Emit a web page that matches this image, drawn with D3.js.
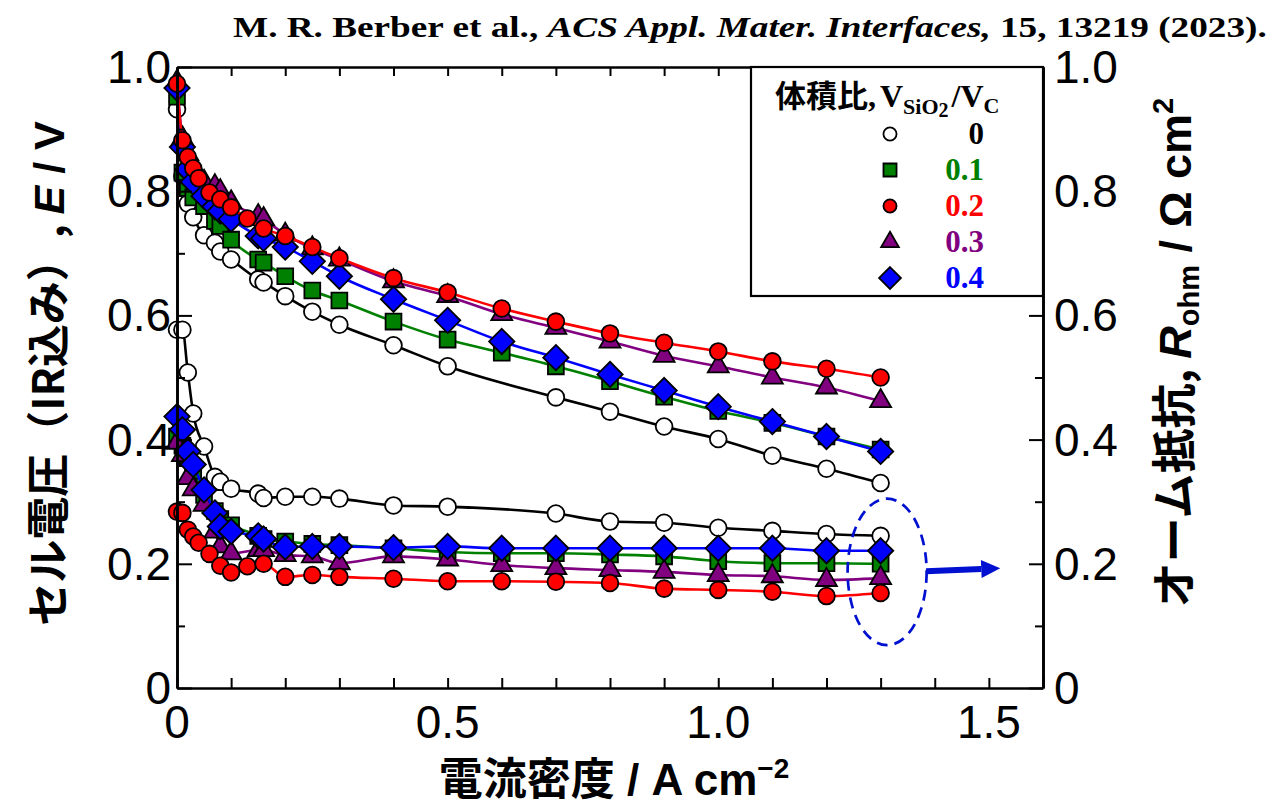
<!DOCTYPE html>
<html>
<head>
<meta charset="utf-8">
<script src="https://cdn.jsdelivr.net/npm/d3@7"></script>
<style>
  body { margin: 0; background: #fff; }
  svg { display: block; }
</style>
</head>
<body>
<svg id="chart" width="1275" height="807"></svg>
<script>
// ---- Data: cell voltage (IR-included) and ohmic resistance vs current density ----
const ratioLabels = ["0", "0.1", "0.2", "0.3", "0.4"];
const ratioColors = ["#000000", "#008000", "#ff0000", "#800080", "#0000ff"];
const markerFills = ["#ffffff", "#008000", "#ff0000", "#800080", "#0000ff"];
const markerShapes = ["circle", "square", "circle", "triangle", "diamond"];

// V_SiO2/V_C = 0
const current_0 = [0, 0.01, 0.02, 0.03, 0.05, 0.07, 0.08, 0.1, 0.15, 0.16, 0.2, 0.25, 0.3, 0.4, 0.5, 0.7, 0.8, 0.9, 1.0, 1.1, 1.2, 1.3];
const voltage_0 = [0.932, 0.824, 0.780, 0.758, 0.729, 0.717, 0.703, 0.690, 0.658, 0.653, 0.631, 0.606, 0.585, 0.552, 0.518, 0.468, 0.445, 0.421, 0.401, 0.374, 0.353, 0.330];
const resistance_0 = [0.577, 0.577, 0.508, 0.442, 0.389, 0.340, 0.332, 0.321, 0.313, 0.306, 0.308, 0.308, 0.305, 0.294, 0.292, 0.281, 0.268, 0.266, 0.258, 0.253, 0.248, 0.245];

// V_SiO2/V_C = 0.1
const current_1 = [0, 0.01, 0.02, 0.03, 0.05, 0.07, 0.08, 0.1, 0.15, 0.16, 0.2, 0.25, 0.3, 0.4, 0.5, 0.6, 0.7, 0.8, 0.9, 1.0, 1.1, 1.2, 1.3];
const voltage_1 = [0.952, 0.830, 0.805, 0.790, 0.776, 0.752, 0.744, 0.722, 0.690, 0.685, 0.663, 0.640, 0.624, 0.590, 0.561, 0.540, 0.518, 0.494, 0.469, 0.446, 0.427, 0.405, 0.384];
const resistance_1 = [0.405, 0.390, 0.370, 0.350, 0.311, 0.285, 0.272, 0.262, 0.245, 0.240, 0.236, 0.232, 0.230, 0.225, 0.219, 0.217, 0.217, 0.215, 0.212, 0.204, 0.201, 0.201, 0.200];

// V_SiO2/V_C = 0.2
const current_2 = [0, 0.01, 0.02, 0.03, 0.04, 0.06, 0.08, 0.1, 0.13, 0.16, 0.2, 0.25, 0.3, 0.4, 0.5, 0.6, 0.7, 0.8, 0.9, 1.0, 1.1, 1.2, 1.3];
const voltage_2 = [0.973, 0.882, 0.855, 0.837, 0.821, 0.798, 0.787, 0.774, 0.756, 0.740, 0.728, 0.710, 0.692, 0.660, 0.637, 0.611, 0.590, 0.571, 0.556, 0.542, 0.526, 0.514, 0.500];
const resistance_2 = [0.284, 0.282, 0.255, 0.244, 0.234, 0.216, 0.197, 0.186, 0.196, 0.200, 0.179, 0.182, 0.179, 0.176, 0.172, 0.172, 0.171, 0.169, 0.160, 0.158, 0.155, 0.148, 0.153];

// V_SiO2/V_C = 0.3
const current_3 = [0, 0.01, 0.02, 0.03, 0.05, 0.07, 0.08, 0.1, 0.15, 0.16, 0.2, 0.25, 0.3, 0.4, 0.5, 0.6, 0.7, 0.8, 0.9, 1.0, 1.1, 1.2, 1.3];
const voltage_3 = [0.976, 0.885, 0.860, 0.840, 0.815, 0.808, 0.800, 0.782, 0.760, 0.755, 0.730, 0.708, 0.690, 0.655, 0.631, 0.602, 0.580, 0.558, 0.535, 0.518, 0.500, 0.484, 0.462];
const resistance_3 = [0.395, 0.375, 0.338, 0.320, 0.295, 0.252, 0.228, 0.217, 0.222, 0.222, 0.214, 0.212, 0.201, 0.212, 0.207, 0.198, 0.193, 0.190, 0.187, 0.182, 0.180, 0.174, 0.177];

// V_SiO2/V_C = 0.4
const current_4 = [0, 0.01, 0.02, 0.03, 0.05, 0.07, 0.08, 0.1, 0.15, 0.16, 0.2, 0.25, 0.3, 0.4, 0.5, 0.6, 0.7, 0.8, 0.9, 1.0, 1.1, 1.2, 1.3];
const voltage_4 = [0.966, 0.871, 0.835, 0.815, 0.792, 0.775, 0.768, 0.755, 0.728, 0.724, 0.710, 0.687, 0.663, 0.626, 0.592, 0.558, 0.532, 0.505, 0.479, 0.453, 0.429, 0.405, 0.381];
const resistance_4 = [0.437, 0.416, 0.381, 0.360, 0.319, 0.282, 0.260, 0.252, 0.245, 0.240, 0.227, 0.228, 0.228, 0.226, 0.228, 0.225, 0.225, 0.225, 0.225, 0.225, 0.225, 0.221, 0.221];

const currents = [current_0, current_1, current_2, current_3, current_4];
const voltages = [voltage_0, voltage_1, voltage_2, voltage_3, voltage_4];
const resistances = [resistance_0, resistance_1, resistance_2, resistance_3, resistance_4];

// Axis ticks
const xMinorTicks = d3.range(0, 17).map(i => i / 10);
const xLabelValues = [0, 0.5, 1.0, 1.5];
const xLabelTexts = ["0", "0.5", "1.0", "1.5"];
const yMajorTicks = [0, 0.2, 0.4, 0.6, 0.8, 1.0];
const yMinorTicks = [0.1, 0.3, 0.5, 0.7, 0.9];
const yLabelTexts = ["0", "0.2", "0.4", "0.6", "0.8", "1.0"];

// ---- Layout ----
const svg = d3.select("#chart");
const x = d3.scaleLinear().domain([0, 1.6]).range([177, 1043]);
const y = d3.scaleLinear().domain([0, 1]).range([688, 67]);
const [xL, xR] = x.range();
const [yB, yT] = y.range();

// Citation line, set in a bold serif and fitted to its slot
const citeRight = 1267, citeWidth = 1034;
const cite = svg.append("text")
  .attr("text-anchor", "start")
  .style("font-family", "'Liberation Serif', 'Times New Roman', serif")
  .style("font-weight", "bold").style("font-size", "30px");
cite.append("tspan").text("M. R. Berber et al., ");
cite.append("tspan").style("font-style", "italic").text("ACS Appl. Mater. Interfaces,");
cite.append("tspan").text(" 15, 13219 (2023).");
const citeNatural = cite.node().getComputedTextLength();
cite.attr("transform", `translate(${citeRight - citeWidth},37) scale(${citeWidth / citeNatural},1)`);

// ---- Data layers ----
const plot = svg.append("g");
const line = d3.line().x(d => x(d[0])).y(d => y(d[1])).curve(d3.curveMonotoneX);

function markerPath(shape, size) {
  if (shape === "circle") return d3.symbol(d3.symbolCircle, size)();
  if (shape === "square") return d3.symbol(d3.symbolSquare, size)();
  if (shape === "triangle") return d3.symbol(d3.symbolTriangle, size)();
  // square rotated 45 degrees
  const h = Math.sqrt(size) / Math.SQRT2;
  return `M0,${-h}L${h},0L0,${h}L${-h},0Z`;
}
const markerSizes = { circle: 220, square: 250, triangle: 190, diamond: 320 };

const drawOrder = [0, 1, 3, 4, 2];
drawOrder.forEach(i => {
  const eData = currents[i].map((c, k) => [c, voltages[i][k]]);
  const rData = currents[i].map((c, k) => [c, resistances[i][k]]);
  [eData, rData].forEach(data => {
    plot.append("path")
      .datum(data)
      .attr("d", line)
      .attr("fill", "none")
      .attr("stroke", ratioColors[i])
      .attr("stroke-width", 2.6);
  });
  const shape = markerShapes[i];
  const d = markerPath(shape, markerSizes[shape]);
  [eData, rData].forEach(data => {
    plot.append("g").selectAll("path")
      .data(data)
      .join("path")
      .attr("d", d)
      .attr("transform", p => `translate(${x(p[0])},${y(p[1])})`)
      .attr("fill", markerFills[i])
      .attr("stroke", "#000")
      .attr("stroke-width", 1.8);
  });
});

// ---- Axes ----
function styleAxis(sel) {
  sel.select(".domain").attr("stroke-width", 2.6);
  sel.selectAll(".tick line").attr("stroke-width", 2);
  sel.selectAll(".tick text").remove();
}
svg.append("g").attr("transform", `translate(0,${yB})`)
  .call(d3.axisBottom(x).tickValues(xMinorTicks).tickSizeInner(-10).tickSizeOuter(0))
  .call(styleAxis);
svg.append("g").attr("transform", `translate(0,${yT})`)
  .call(d3.axisTop(x).tickValues(xMinorTicks).tickSizeInner(-9).tickSizeOuter(0))
  .call(styleAxis);
svg.append("g").attr("transform", `translate(${xL},0)`)
  .call(d3.axisLeft(y).tickValues(yMajorTicks).tickSizeInner(-15).tickSizeOuter(0))
  .call(styleAxis);
svg.append("g").attr("transform", `translate(${xL},0)`)
  .call(d3.axisLeft(y).tickValues(yMinorTicks).tickSizeInner(-8).tickSizeOuter(0))
  .call(styleAxis);
svg.append("g").attr("transform", `translate(${xR},0)`)
  .call(d3.axisRight(y).tickValues(yMajorTicks).tickSizeInner(-14).tickSizeOuter(0))
  .call(styleAxis);
svg.append("g").attr("transform", `translate(${xR},0)`)
  .call(d3.axisRight(y).tickValues(yMinorTicks).tickSizeInner(-8).tickSizeOuter(0))
  .call(styleAxis);

const tickFont = "'Liberation Sans', Arial, sans-serif";
svg.append("g").selectAll("text")
  .data(xLabelValues)
  .join("text")
  .attr("x", d => x(d)).attr("y", yB + 50)
  .attr("text-anchor", "middle")
  .style("font-family", tickFont).style("font-size", "46px")
  .text((d, k) => xLabelTexts[k]);
svg.append("g").selectAll("text")
  .data(yMajorTicks)
  .join("text")
  .attr("x", xL - 6).attr("y", d => y(d) + 16)
  .attr("text-anchor", "end")
  .style("font-family", tickFont).style("font-size", "46px")
  .text((d, k) => yLabelTexts[k]);
svg.append("g").selectAll("text")
  .data(yMajorTicks)
  .join("text")
  .attr("x", xR + 11).attr("y", d => y(d) + 16)
  .attr("text-anchor", "start")
  .style("font-family", tickFont).style("font-size", "46px")
  .text((d, k) => yLabelTexts[k]);

// Axis titles
const titleFont = "'Noto Sans CJK JP', 'Liberation Sans', sans-serif";
const yTitle = svg.append("text")
  .attr("transform", `translate(64,${(yT + yB) / 2 - 4}) rotate(-90)`)
  .attr("text-anchor", "middle")
  .style("font-family", titleFont).style("font-weight", "bold").style("font-size", "43px");
yTitle.append("tspan").text("セル電圧（IR込み）, ");
yTitle.append("tspan").style("font-style", "italic").style("font-family", "'Liberation Sans', sans-serif").text("E");
yTitle.append("tspan").style("font-family", "'Liberation Sans', sans-serif").text(" / V");

const y2Title = svg.append("text")
  .attr("transform", `translate(1191,${(yT + yB) / 2 - 25}) rotate(-90)`)
  .attr("text-anchor", "middle")
  .style("font-family", titleFont).style("font-weight", "bold").style("font-size", "45px");
y2Title.append("tspan").text("オーム抵抗, ");
y2Title.append("tspan").style("font-style", "italic").style("font-family", "'Liberation Sans', sans-serif").text("R");
y2Title.append("tspan").style("font-family", "'Liberation Sans', sans-serif").style("font-size", "29px").attr("dy", 8).text("ohm");
y2Title.append("tspan").style("font-family", "'Liberation Sans', sans-serif").attr("dy", -8).text(" / Ω cm");
y2Title.append("tspan").style("font-family", "'Liberation Sans', sans-serif").style("font-size", "29px").attr("dy", -18).text("2");

const xTitle = svg.append("text")
  .attr("x", 614).attr("y", 795)
  .attr("text-anchor", "middle")
  .style("font-family", titleFont).style("font-weight", "bold").style("font-size", "44px");
xTitle.append("tspan").text("電流密度");
xTitle.append("tspan").style("font-family", "'Liberation Sans', sans-serif").text(" / A cm");
xTitle.append("tspan").style("font-family", "'Liberation Sans', sans-serif").style("font-size", "28px").attr("dy", -17).text("−2");

// ---- Legend ----
const legend = svg.append("g");
legend.append("rect")
  .attr("x", 751).attr("y", yT).attr("width", xR - 751).attr("height", 296 - yT)
  .attr("fill", "#fff").attr("stroke", "#000").attr("stroke-width", 2.2);
const serif = "'Liberation Serif', 'Times New Roman', serif";
const lt = legend.append("text").attr("x", 775).attr("y", 107)
  .style("font-weight", "bold").style("font-family", serif).style("font-size", "32px");
lt.append("tspan").style("font-family", titleFont).style("font-size", "31px").text("体積比");
lt.append("tspan").text(",");
lt.append("tspan").attr("dx", 4).text("V");
lt.append("tspan").style("font-size", "22px").attr("dy", 7).text("SiO");
lt.append("tspan").style("font-size", "20px").attr("dy", 3).text("2");
lt.append("tspan").attr("dy", -10).attr("dx", 3).text("/V");
lt.append("tspan").style("font-size", "22px").attr("dy", 6).text("C");

const legendRows = [134, 170, 206, 242, 278];
const legendSizes = { circle: 135, square: 170, triangle: 135, diamond: 240 };
ratioLabels.forEach((lab, i) => {
  const shape = markerShapes[i];
  legend.append("path")
    .attr("d", markerPath(shape, legendSizes[shape]))
    .attr("transform", `translate(890,${legendRows[i]})`)
    .attr("fill", markerFills[i]).attr("stroke", "#000").attr("stroke-width", 1.8);
  legend.append("text")
    .attr("x", 984).attr("y", legendRows[i] + 10)
    .attr("text-anchor", "end")
    .style("font-family", serif).style("font-weight", "bold").style("font-size", "31px")
    .attr("fill", ratioColors[i])
    .text(lab);
});

// ---- Annotation: resistance curves point to the right axis ----
const ellipseCenter = [1.312, 0.187];
const ellipseRadii = [0.073, 0.118];
svg.append("ellipse")
  .attr("cx", x(ellipseCenter[0])).attr("cy", y(ellipseCenter[1]))
  .attr("rx", x(ellipseRadii[0]) - x(0)).attr("ry", y(0) - y(ellipseRadii[1]))
  .attr("fill", "none").attr("stroke", "#0010d0").attr("stroke-width", 2.7)
  .attr("stroke-dasharray", "11,7");
const arrowFrom = [1.384, 0.188];
const arrowTo = [1.521, 0.193];
const ax0 = x(arrowFrom[0]), ay0 = y(arrowFrom[1]);
const ax1 = x(arrowTo[0]), ay1 = y(arrowTo[1]);
const ang = Math.atan2(ay1 - ay0, ax1 - ax0);
const headLen = 19, headHalf = 9;
const bx = ax1 - headLen * Math.cos(ang), by = ay1 - headLen * Math.sin(ang);
svg.append("line")
  .attr("x1", ax0).attr("y1", ay0).attr("x2", bx).attr("y2", by)
  .attr("stroke", "#0010d0").attr("stroke-width", 6);
svg.append("path")
  .attr("d", `M${ax1},${ay1}L${bx - headHalf * Math.sin(ang)},${by + headHalf * Math.cos(ang)}L${bx + headHalf * Math.sin(ang)},${by - headHalf * Math.cos(ang)}Z`)
  .attr("fill", "#0010d0");
</script>
</body>
</html>
